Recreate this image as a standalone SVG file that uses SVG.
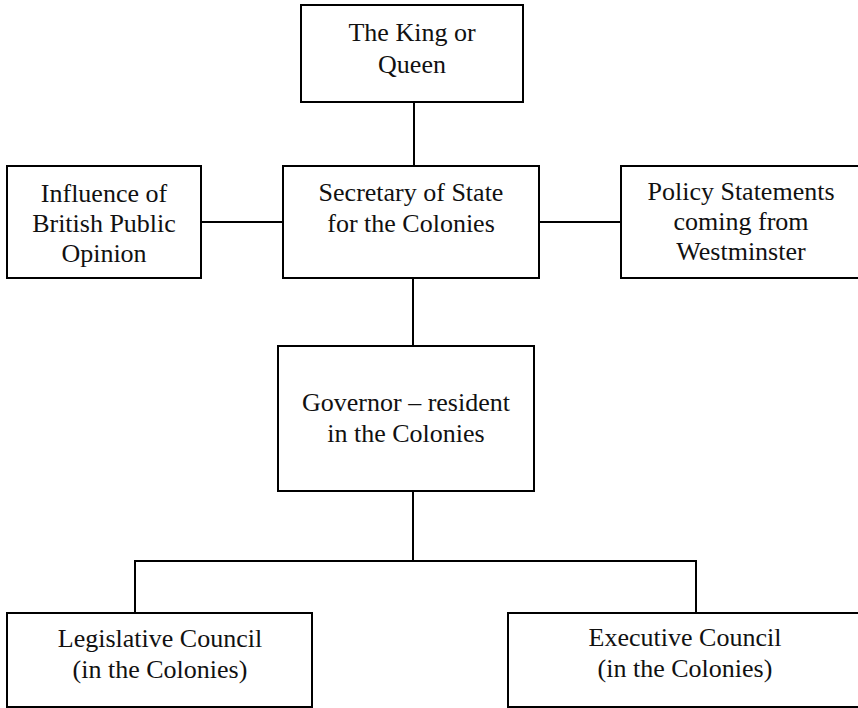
<svg xmlns="http://www.w3.org/2000/svg" width="858" height="708" viewBox="0 0 858 708">
<style>
.box{fill:#fff;stroke:#000;stroke-width:2}
.ln{fill:none;stroke:#000;stroke-width:2}
text{font-family:"Liberation Serif","Times New Roman",serif;font-size:26px;fill:#111;text-anchor:middle}
</style>
<rect width="858" height="708" fill="#fff"/>
<g id="connectors">
<line class="ln" x1="414" y1="102" x2="414" y2="166"/>
<line class="ln" x1="201" y1="222" x2="283" y2="222"/>
<line class="ln" x1="539" y1="222" x2="621" y2="222"/>
<line class="ln" x1="413" y1="278" x2="413" y2="346"/>
<polyline class="ln" points="413,491 413,561"/>
<polyline class="ln" points="135,613 135,561 696,561 696,613"/>
</g>
<g id="king">
<rect class="box" x="301" y="5" width="222" height="97"/>
<text x="412" y="41">The King or</text>
<text x="412" y="73">Queen</text>
</g>
<g id="influence">
<rect class="box" x="7" y="166" width="194" height="112"/>
<text x="104" y="202">Influence of</text>
<text x="104" y="232">British Public</text>
<text x="104" y="262">Opinion</text>
</g>
<g id="secretary">
<rect class="box" x="283" y="166" width="256" height="112"/>
<text x="411" y="201">Secretary of State</text>
<text x="411" y="232">for the Colonies</text>
</g>
<g id="policy">
<rect class="box" x="621" y="166" width="250" height="112"/>
<text x="741" y="200">Policy Statements</text>
<text x="741" y="230">coming from</text>
<text x="741" y="260">Westminster</text>
</g>
<g id="governor">
<rect class="box" x="278" y="346" width="256" height="145"/>
<text x="406" y="411">Governor – resident</text>
<text x="406" y="442">in the Colonies</text>
</g>
<g id="legislative">
<rect class="box" x="7" y="613" width="305" height="94"/>
<text x="160" y="647">Legislative Council</text>
<text x="160" y="678">(in the Colonies)</text>
</g>
<g id="executive">
<rect class="box" x="508" y="613" width="360" height="94"/>
<text x="685" y="646">Executive Council</text>
<text x="685" y="677">(in the Colonies)</text>
</g>
</svg>
